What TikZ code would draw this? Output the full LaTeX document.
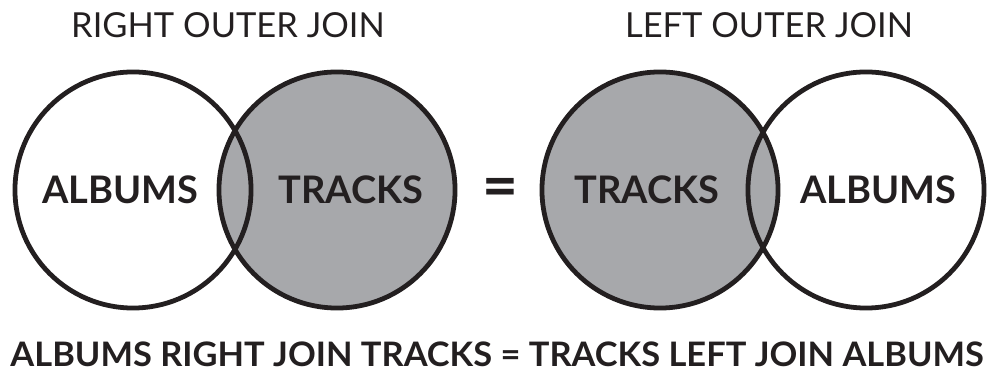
\documentclass[tikz,border=0pt]{standalone}
\usepackage{fontspec}
\setmainfont{Lato}
\usetikzlibrary{positioning}
\definecolor{setgray}{HTML}{A7A8AB}
\definecolor{inkblack}{HTML}{231F20}

\begin{document}
\begin{tikzpicture}[
        x=0.025cm, y=-0.025cm,
        every node/.style={text=inkblack},
        whiteset/.style={draw=inkblack, circle, line width=3.4pt, minimum size=5.9cm, inner sep=0pt},
        grayset/.style={whiteset, fill=setgray},
        titlelabel/.style={font=\fontsize{24.5}{28}\selectfont, inner sep=0pt},
        setlabel/.style={font=\fontsize{27}{30}\selectfont\bfseries, inner sep=0pt},
        eqsign/.style={font=\fontsize{44}{48}\selectfont\bfseries, inner sep=0pt},
        summary/.style={font=\fontsize{24}{28}\selectfont\bfseries, inner sep=0pt}
    ]
        % Frame of the picture
        \useasboundingbox (0,0) rectangle (993,373);

        % Right outer join: albums left, tracks shaded
        \node[grayset] (tracksR) at (337,190) {};
        \node[whiteset] (albumsL) at (133,190) {};
        \node[setlabel] (lblAlbumsL) at (120,190) {ALBUMS};
        \node[setlabel] (lblTracksR) at (351,190) {TRACKS};
        \node[titlelabel] (titleRight) at (228,25) {RIGHT OUTER JOIN};

        % Equals sign between the two pictures
        \node[eqsign] (equal) at (500,193) {=};

        % Left outer join: tracks shaded, albums right
        \node[grayset] (tracksL) at (660,190) {};
        \node[whiteset] (albumsR) at (866,190) {};
        \node[setlabel] (lblTracksL) at (647,190) {TRACKS};
        \node[setlabel] (lblAlbumsR) at (878,190) {ALBUMS};
        \node[titlelabel] (titleLeft) at (769,25) {LEFT OUTER JOIN};

        % Summary line
        \node[summary, xscale=1.02, transform shape] (sum) at (497,354) {ALBUMS RIGHT JOIN TRACKS = TRACKS LEFT JOIN ALBUMS};

    \end{tikzpicture}
\end{document}
